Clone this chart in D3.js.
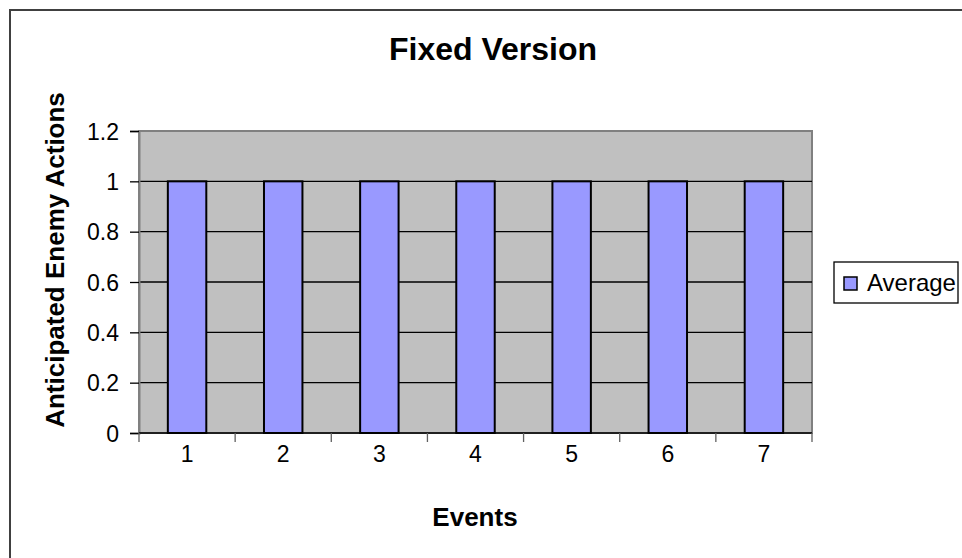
<!DOCTYPE html>
<html>
<head>
<meta charset="utf-8">
<script src="https://cdn.jsdelivr.net/npm/d3@7"></script>
<style>
  body { margin: 0; background: #fff; }
  text { font-family: "Liberation Sans", Arial, sans-serif; fill: #000; }
</style>
</head>
<body>
<div id="chart"></div>
<script>
const width = 962;
const height = 558;

// data
const events = ["1", "2", "3", "4", "5", "6", "7"];
const averageValues = [1, 1, 1, 1, 1, 1, 1];
const yTicks = [0, 0.2, 0.4, 0.6, 0.8, 1, 1.2];
const seriesName = "Average";

const plot = { left: 139, right: 812, top: 131, bottom: 433 };

const svg = d3.select("#chart")
    .append("svg")
    .attr("width", width)
    .attr("height", height);

// outer chart frame (only top and left visible)
svg.append("rect")
    .attr("x", 10).attr("y", 10)
    .attr("width", width + 20).attr("height", height + 20)
    .attr("fill", "#fff")
    .attr("stroke", "#404040")
    .attr("stroke-width", 2);

const x = d3.scaleBand()
    .domain(events)
    .range([plot.left, plot.right])
    .paddingInner(0.6)
    .paddingOuter(0.3);

const y = d3.scaleLinear()
    .domain([0, 1.2])
    .range([plot.bottom, plot.top]);

// plot area
svg.append("rect")
    .attr("x", plot.left).attr("y", plot.top)
    .attr("width", plot.right - plot.left)
    .attr("height", plot.bottom - plot.top)
    .attr("fill", "#c0c0c0")
    .attr("stroke", "#808080")
    .attr("stroke-width", 2);

// gridlines
svg.append("g")
    .selectAll("line")
    .data(yTicks.filter(d => d > 0 && d < 1.2))
    .join("line")
    .attr("x1", plot.left).attr("x2", plot.right)
    .attr("y1", d => y(d)).attr("y2", d => y(d))
    .attr("stroke", "#000")
    .attr("stroke-width", 1.3);

// bars
svg.append("g")
    .selectAll("rect")
    .data(averageValues)
    .join("rect")
    .attr("x", (d, i) => x(events[i]))
    .attr("y", d => y(d))
    .attr("width", x.bandwidth())
    .attr("height", d => y(0) - y(d))
    .attr("fill", "#9999ff")
    .attr("stroke", "#000")
    .attr("stroke-width", 2);

// y axis
const yAxis = svg.append("g")
    .attr("transform", `translate(${plot.left},0)`)
    .call(d3.axisLeft(y).tickValues(yTicks).tickSize(9).tickPadding(11).tickFormat(d3.format("")));
yAxis.select(".domain").attr("stroke", "#808080").attr("stroke-width", 2);
yAxis.selectAll(".tick line").attr("stroke", "#000").attr("stroke-width", 1.3);
yAxis.selectAll(".tick text")
    .style("font-family", "'Liberation Sans', Arial, sans-serif")
    .style("font-size", "23px")
    .attr("dy", "0.36em");

// x axis: ticks between categories
const step = x.step();
const boundaries = d3.range(events.length + 1).map(i => plot.left + i * step);
svg.append("line")
    .attr("x1", plot.left).attr("x2", plot.right)
    .attr("y1", y(0)).attr("y2", y(0))
    .attr("stroke", "#000").attr("stroke-width", 1.5);
svg.append("g")
    .selectAll("line")
    .data(boundaries)
    .join("line")
    .attr("x1", d => d).attr("x2", d => d)
    .attr("y1", y(0)).attr("y2", y(0) + 9)
    .attr("stroke", "#606060").attr("stroke-width", 1.3);
svg.append("g")
    .selectAll("text")
    .data(events)
    .join("text")
    .attr("x", d => x(d) + x.bandwidth() / 2)
    .attr("y", 462)
    .attr("text-anchor", "middle")
    .style("font-size", "23px")
    .text(d => d);

// titles
svg.append("text")
    .attr("x", 493).attr("y", 60)
    .attr("text-anchor", "middle")
    .style("font-size", "32px").style("font-weight", "bold")
    .text("Fixed Version");

svg.append("text")
    .attr("x", 475).attr("y", 526)
    .attr("text-anchor", "middle")
    .style("font-size", "26px").style("font-weight", "bold")
    .text("Events");

svg.append("text")
    .attr("transform", `translate(64, 260) rotate(-90)`)
    .attr("text-anchor", "middle")
    .style("font-size", "26px").style("font-weight", "bold")
    .text("Anticipated Enemy Actions");

// legend
const legend = svg.append("g").attr("transform", "translate(834,262)");
legend.append("rect")
    .attr("width", 124).attr("height", 41)
    .attr("fill", "#fff")
    .attr("stroke", "#000").attr("stroke-width", 1.3);
legend.append("rect")
    .attr("x", 10).attr("y", 15)
    .attr("width", 13).attr("height", 13)
    .attr("fill", "#9999ff")
    .attr("stroke", "#000").attr("stroke-width", 1.5);
legend.append("text")
    .attr("x", 33).attr("y", 29)
    .style("font-size", "24px")
    .text(seriesName);
</script>
</body>
</html>
